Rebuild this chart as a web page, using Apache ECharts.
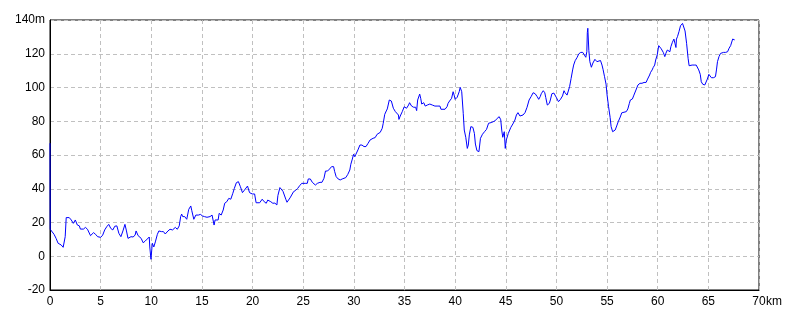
<!DOCTYPE html>
<html>
<head>
<meta charset="utf-8">
<script src="https://cdn.jsdelivr.net/npm/echarts@6/dist/echarts.min.js"></script>
<style>
  html, body { margin: 0; padding: 0; background: #fff; }
  #chart { width: 800px; height: 320px; }
</style>
</head>
<body>
<div id="chart"></div>
<script>
// Distance (km) along the route
const distKm = [
  0, 0.02, 0.2, 0.4, 0.6, 0.8, 1.1, 1.3, 1.5, 1.6, 1.9, 2.1, 2.3, 2.5, 2.7, 2.9, 3.0, 3.3, 3.5, 3.7, 3.8,
  4.0, 4.3, 4.5, 4.7, 5.0, 5.2, 5.4, 5.6, 5.8, 6.0, 6.2, 6.4, 6.6, 6.8, 7.0, 7.2, 7.4, 7.55, 7.7,
  8.0, 8.2, 8.4, 8.5, 8.7, 9.0, 9.2, 9.4, 9.6, 9.8, 9.85, 9.97, 10.1, 10.25, 10.4, 10.6, 10.75,
  11.0, 11.2, 11.38, 11.65, 11.85, 12.1, 12.37, 12.57, 12.76, 12.9, 13.0, 13.1, 13.3, 13.5, 13.7, 13.9,
  14.0, 14.2, 14.4, 14.65, 14.85, 15.05, 15.25, 15.5, 15.8, 16.0, 16.1, 16.2, 16.3, 16.6, 16.7, 16.9,
  17.1, 17.25, 17.45, 17.65, 17.85, 18.05, 18.2, 18.4, 18.6, 18.8, 19.0, 19.2, 19.5, 19.7, 19.97,
  20.2, 20.35, 20.7, 20.95, 21.15, 21.35, 21.5, 21.8, 22.0, 22.2, 22.4, 22.5, 22.7, 22.85, 23.0, 23.15,
  23.3, 23.4, 23.5, 23.7, 23.85, 24.05, 24.25, 24.45, 24.65, 24.85, 25.2, 25.4, 25.5, 25.7, 25.9,
  26.2, 26.4, 26.65, 26.85, 27.05, 27.2, 27.4, 27.6, 27.8, 28.0, 28.1, 28.25, 28.45, 28.65, 28.85,
  29.0, 29.2, 29.4, 29.6, 29.7, 29.85, 29.97, 30.1, 30.2, 30.4, 30.6, 30.8, 31.0, 31.2, 31.4, 31.6,
  31.9, 32.1, 32.3, 32.6, 32.8, 32.9, 33.05, 33.2, 33.3, 33.5, 33.7, 33.9, 34.1, 34.25, 34.4, 34.45,
  34.58, 34.78, 34.97, 35.2, 35.4, 35.5, 35.7, 35.9, 36.1, 36.2, 36.3, 36.5, 36.6, 36.7, 36.9, 37.05,
  37.25, 37.5, 37.75, 38.0, 38.3, 38.5, 38.6, 39.0, 39.2, 39.3, 39.45, 39.65, 39.8, 39.9, 40.0, 40.2,
  40.4, 40.5, 40.65, 40.8, 40.9, 41.05, 41.2, 41.3, 41.4, 41.55, 41.75, 41.9, 42.0, 42.15, 42.35, 42.4,
  42.5, 42.7, 42.9, 43.1, 43.3, 43.55, 43.75, 43.95, 44.15, 44.35, 44.5, 44.6, 44.7, 44.85, 44.95,
  45.05, 45.25, 45.4, 45.5, 45.7, 45.9, 46.05, 46.2, 46.4, 46.5, 46.7, 46.9, 47.1, 47.3, 47.5, 47.7,
  47.9, 48.1, 48.25, 48.4, 48.5, 48.7, 48.85, 48.95, 49.1, 49.3, 49.4, 49.55, 49.75, 49.9, 50.0, 50.2,
  50.4, 50.6, 50.75, 50.85, 51.05, 51.2, 51.3, 51.45, 51.6, 51.7, 51.85, 52.05, 52.2, 52.4, 52.6,
  52.75, 52.9, 53.0, 53.05, 53.1, 53.2, 53.3, 53.45, 53.6, 53.8, 54.0, 54.15, 54.35, 54.5, 54.6,
  54.75, 54.9, 55.0, 55.15, 55.3, 55.4, 55.55, 55.7, 55.8, 55.95, 56.1, 56.3, 56.45, 56.6, 56.9,
  57.05, 57.2, 57.3, 57.5, 57.65, 57.85, 58.05, 58.25, 58.45, 58.65, 58.85, 59.0, 59.2, 59.3, 59.45,
  59.55, 59.7, 59.8, 59.95, 60.1, 60.2, 60.35, 60.5, 60.55, 60.7, 60.8, 60.95, 61.05, 61.2, 61.3,
  61.45, 61.6, 61.7, 61.8, 61.85, 61.95, 62.1, 62.25, 62.45, 62.6, 62.7, 62.85, 63.0, 63.1, 63.25,
  63.4, 63.6, 63.8, 63.9, 64.05, 64.2, 64.3, 64.45, 64.65, 64.8, 64.9, 65.05, 65.2, 65.3, 65.5, 65.7,
  65.8, 65.9, 66.05, 66.2, 66.3, 66.5, 66.7, 66.9, 67.05, 67.2, 67.3, 67.4, 67.55, 67.6
];

// Elevation (m) at each distance
const elevM = [
  67, 16, 15.5, 13, 10.6, 7.7, 6.7, 5.3, 11.6, 22.9, 22.9, 21.5, 19.5, 21.5, 18.5, 18, 16.1, 16.1, 17.1, 16, 16.5,
  12.2, 14, 13, 11.6, 11.2, 12.5, 15.6, 17.5, 18.9, 16.5, 15.6, 17.8, 18, 13.6, 11.6, 15, 18.9, 15, 10.6,
  11.6, 11.4, 12.5, 15, 12.2, 10.6, 8, 9, 10.2, 11.4, 5.5, -1.8, 7.7, 5.5, 8.5, 13, 15,
  14.6, 14.6, 13.2, 15, 16, 15.6, 17.1, 16, 18, 23.5, 25, 23.5, 23.5, 21.9, 27.8, 29.8,
  27, 21.9, 24.4, 24.4, 24.8, 23.9, 23.5, 23.1, 23.5, 24.4, 23.5, 18.5, 21.5, 21.5, 25.4, 24.4,
  27.4, 31.4, 32.3, 34.3, 33.8, 37.3, 40.2, 43.6, 44.2, 41.2, 37.7, 39.2, 41.6, 37.7, 36.9,
  36.9, 31.7, 31.7, 33.8, 32.3, 31.4, 33.3, 32.3, 31.4, 31.5, 30.4, 36, 40.7, 40.2, 38.5, 37.5,
  33.5, 32, 32.6, 34.6, 34.6, 38.3, 39, 40.2, 41.8, 43.2, 43.2, 43.2, 45.8, 45.8, 43.8,
  42.2, 43.2, 43.8, 43.8, 46.2, 50.5, 50.5, 51.7, 53.1, 53.1, 50.3, 47.2, 45.8, 45.2, 45.8,
  46.6, 46.6, 48.5, 51.1, 54.5, 57.6, 60.4, 59, 60.4, 63, 65.9, 65.9, 65, 65, 66.9, 68.9,
  69.9, 70.3, 72.3, 73.4, 75.8, 78.8, 84.1, 86.1, 87.3, 92.6, 92, 87.7, 85.7, 84.7, 83.7, 81.1,
  83.1, 85.7, 88.6, 87.7, 89.6, 91, 89, 88.3, 88.3, 86.3, 92.6, 96.1, 93.6, 90.2, 91, 89,
  89.6, 90.2, 89.6, 89, 89, 89, 87.1, 87.1, 88.6, 90.6, 92, 93.6, 97.5, 95.5, 93, 94.2,
  97.5, 100.1, 97.5, 84.7, 74.8, 70.5, 63.9, 65.9, 71.9, 76.8, 76.4, 72.8, 66.5, 62.6, 62, 61.4,
  69.9, 72.3, 73.8, 75.2, 78.8, 79.2, 79.7, 80.3, 81.7, 82.7, 80.9, 74.8, 70.5, 73.8, 63.9,
  68.9, 72.8, 72.8, 76.4, 78.4, 80.7, 83.7, 85.1, 83.1, 82.3, 83.7, 85.1, 88.3, 92.6, 94.6, 96.9,
  96.3, 94.6, 93, 94.6, 96.3, 98.1, 96.9, 94, 89.6, 90.6, 92.6, 96.3, 96.7, 96.9, 94, 91.6,
  93, 95, 98.1, 96.9, 95.5, 96.5, 100.5, 105.4, 110.4, 113.3, 115.9, 117.9, 119.9, 120.8, 120.8,
  120.6, 117.9, 121.2, 132.5, 135.1, 122, 115.3, 112, 114.5, 116.7, 115.3, 114.7, 116, 113.3, 110.8,
  106.4, 102, 95.6, 88.6, 82.3, 76.8, 73.8, 72.8, 74.8, 77.2, 79.7, 82.5, 85, 85.2, 85.7,
  87.3, 90.6, 92.6, 93.2, 95.5, 98.5, 101.5, 102.5, 102.5, 103, 103, 105, 107.4, 109, 110.4,
  111.8, 113.3, 116.3, 119.3, 124.8, 124.2, 122.9, 123.3, 120.8, 118.3, 120.2, 122.2, 121.2, 121.2, 124.2,
  126.8, 128.7, 126.2, 123.7, 128.7, 130.1, 133.1, 136.6, 138, 137.5, 133.5, 126.2, 117.3, 112.9, 111.8,
  113.3, 113.3, 113.3, 112.4, 110.4, 107.8, 103.4, 101.9, 101.5, 102.5, 105, 107.8, 107, 105.8, 105.8, 106.4,
  110.4, 115.3, 118.3, 120.2, 119.3, 120.8, 120.8, 121.2, 123.3, 124.8, 125.6, 128.7, 129.1, 128.2
];

// Axis ranges / tick steps
const xRange = [0, 70];
const xStep = 5;
const yRange = [-20, 140];
const yStep = 20;
const xUnit = 'km';
const yUnit = 'm';

const points = distKm.map((d, i) => [d, elevM[i]]);

const labelFont = '"Liberation Sans Narrow", "Liberation Sans", "DejaVu Sans", sans-serif';

const chart = echarts.init(document.getElementById('chart'), null, { renderer: 'canvas' });
chart.setOption({
  animation: false,
  backgroundColor: '#ffffff',
  grid: {
    left: 50, right: 41, top: 20, bottom: 30,
    show: true, borderColor: '#000', borderWidth: 1, backgroundColor: 'transparent'
  },
  xAxis: {
    type: 'value',
    min: xRange[0], max: xRange[1], interval: xStep,
    name: xUnit,
    nameLocation: 'end',
    nameGap: 7,
    nameMoveOverlap: false,
    nameTextStyle: { color: '#000', fontSize: 12, fontFamily: labelFont, verticalAlign: 'top', padding: [6, 0, 0, 0] },
    axisLine: { show: true, onZero: false, lineStyle: { color: '#000', width: 1 } },
    axisTick: { show: false },
    axisLabel: { color: '#000', fontSize: 12, fontFamily: labelFont, margin: 6 },
    splitLine: { show: true, lineStyle: { color: '#c0c0c0', type: [4, 3], width: 1 } }
  },
  yAxis: {
    type: 'value',
    min: yRange[0], max: yRange[1], interval: yStep,
    axisLine: { show: true, onZero: false, lineStyle: { color: '#000', width: 1 } },
    axisTick: { show: false },
    axisLabel: {
      color: '#000', fontSize: 12, fontFamily: labelFont, margin: 5,
      formatter: v => (v === yRange[1] ? v + yUnit : String(v))
    },
    splitLine: { show: true, lineStyle: { color: '#c0c0c0', type: [4, 3], width: 1 } }
  },
  series: [{
    type: 'line',
    data: points,
    showSymbol: false,
    symbol: 'none',
    smooth: false,
    lineStyle: { color: '#0000ff', width: 1 },
    itemStyle: { color: '#0000ff' }
  }]
});
</script>
</body>
</html>
